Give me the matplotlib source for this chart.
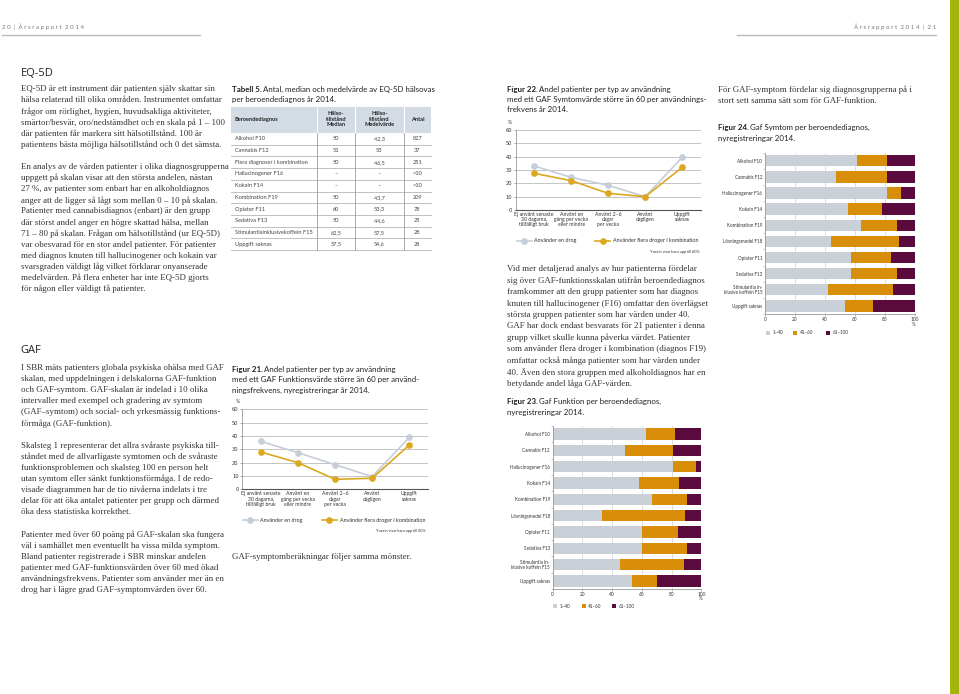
import matplotlib.pyplot as plt
from matplotlib.patches import Rectangle

# --- data ---
line_cats = ['Ej använt senaste\n30 dagarna,\ntillfälligt bruk', 'Använt en\ngång per vecka\neller mindre',
             'Använt 2–6\ndagar\nper vecka', 'Använt\ndagligen', 'Uppgift\nsaknas']
fig21_en_drog = [36, 27.5, 18.5, 9.5, 39]
fig21_flera = [28, 20, 7.5, 8.3, 33.3]
fig22_en_drog = [33, 24.5, 18.5, 10, 39.5]
fig22_flera = [27.5, 22, 12.5, 10, 32]

bar_cats = ['Alkohol F10', 'Cannabis F12', 'Hallucinogener F16', 'Kokain F14', 'Kombination F19',
            'Lösningsmedel F18', 'Opiater F11', 'Sedativa F13', 'Stimulantia in-\nklusive koffein F15',
            'Uppgift saknas']
gaf_levels = ['1–40', '41–60', '61–100']
fig23_low = [63, 48.5, 81, 58, 67, 33, 60, 60, 45, 53]
fig23_mid = [19, 32.5, 15, 27, 23, 56, 24, 30, 43, 17]
fig23_high = [18, 19, 4, 15, 10, 11, 16, 10, 12, 30]
fig24_low = [61, 47, 81, 55.5, 64, 44, 57, 57, 42, 53]
fig24_mid = [20, 34, 9.5, 22.5, 24, 45, 27, 31, 43, 19]
fig24_high = [19, 19, 9.5, 22, 12, 11, 16, 12, 15, 28]

table_head = ['Beroendediagnos', 'Hälso-\ntillstånd\nMedian', 'Hälso-\ntillstånd\nMedelvärde', 'Antal']
table_diag = ['Alkohol F10', 'Cannabis F12', 'Flera diagnoser i kombination', 'Hallucinogener F16',
              'Kokain F14', 'Kombination F19', 'Opiater F11', 'Sedativa F13',
              'Stimulantiainklusivekoffein F15', 'Uppgift saknas']
table_median = ['50', '51', '50', '–', '–', '50', '60', '50', '62,5', '57,5']
table_medel = ['42,3', '53', '46,5', '–', '–', '43,7', '53,3', '44,6', '57,5', '54,6']
table_antal = ['827', '37', '251', '<10', '<10', '209', '78', '25', '28', '28']

eq5d_text = [
    'EQ-5D är ett instrument där patienten själv skattar sin',
    'hälsa relaterad till olika områden. Instrumentet omfattar',
    'frågor om rörlighet, hygien, huvudsakliga aktiviteter,',
    'smärtor/besvär, oro/nedstämdhet och en skala på 1 – 100',
    'där patienten får markera sitt hälsotillstånd. 100 är',
    'patientens bästa möjliga hälsotillstånd och 0 det sämsta.',
    '',
    'En analys av de värden patienter i olika diagnosgrupperna',
    'uppgett på skalan visar att den största andelen, nästan',
    '27 %, av patienter som enbart har en alkoholdiagnos',
    'anger att de ligger så lågt som mellan 0 – 10 på skalan.',
    'Patienter med cannabisdiagnos (enbart) är den grupp',
    'där störst andel anger en högre skattad hälsa, mellan',
    '71 – 80 på skalan. Frågan om hälsotillstånd (ur EQ-5D)',
    'var obesvarad för en stor andel patienter. För patienter',
    'med diagnos knuten till hallucinogener och kokain var',
    'svarsgraden väldigt låg vilket förklarar onyanserade',
    'medelvärden. På flera enheter har inte EQ-5D gjorts',
    'för någon eller väldigt få patienter.',
]
gaf_text = [
    'I SBR mäts patienters globala psykiska ohälsa med GAF',
    'skalan, med uppdelningen i delskalorna GAF-funktion',
    'och GAF-symtom. GAF-skalan är indelad i 10 olika',
    'intervaller med exempel och gradering av symtom',
    '(GAF–symtom) och social- och yrkesmässig funktions-',
    'förmåga (GAF-funktion).',
    '',
    'Skalsteg 1 representerar det allra svåraste psykiska till-',
    'ståndet med de allvarligaste symtomen och de svåraste',
    'funktionsproblemen och skalsteg 100 en person helt',
    'utan symtom eller sänkt funktionsförmåga. I de redo-',
    'visade diagrammen har de tio nivåerna indelats i tre',
    'delar för att öka antalet patienter per grupp och därmed',
    'öka dess statistiska korrekthet.',
    '',
    'Patienter med över 60 poäng på GAF-skalan ska fungera',
    'väl i samhället men eventuellt ha vissa milda symptom.',
    'Bland patienter registrerade i SBR minskar andelen',
    'patienter med GAF-funktionsvärden över 60 med ökad',
    'användningsfrekvens. Patienter som använder mer än en',
    'drog har i lägre grad GAF-symptomvärden över 60.',
]
col3_text = [
    'Vid mer detaljerad analys av hur patienterna fördelar',
    'sig över GAF-funktionsskalan utifrån beroendediagnos',
    'framkommer att den grupp patienter som har diagnos',
    'knuten till hallucinogener (F16) omfattar den överlägset',
    'största gruppen patienter som har värden under 40.',
    'GAF har dock endast besvarats för 21 patienter i denna',
    'grupp vilket skulle kunna påverka värdet. Patienter',
    'som använder flera droger i kombination (diagnos F19)',
    'omfattar också många patienter som har värden under',
    '40. Även den stora gruppen med alkoholdiagnos har en',
    'betydande andel låga GAF-värden.',
]
col4_text = ['För GAF-symptom fördelar sig diagnosgrupperna på i',
             'stort sett samma sätt som för GAF-funktion.']

# --- style ---
W, H = 959, 694
SANS = 'Lato'
SERIF = 'Liberation Serif'
TXT = '#333333'
C_EN = '#c6ceda'
C_FLERA = '#dba81f'
C_LOW = '#c9d0d8'
C_MID = '#d98e0a'
C_HIGH = '#5a0a3c'
GREEN = '#a4b40c'

fig = plt.figure(figsize=(W / 100, H / 100), dpi=100)
page = fig.add_axes([0, 0, 1, 1])
page.set_xlim(0, W)
page.set_ylim(H, 0)
page.axis('off')
renderer = fig.canvas.get_renderer()


def body(x, y, lines, step):
    for i, s in enumerate(lines):
        if s:
            page.text(x, y + i * step, s, fontsize=6.4, family=SERIF, color=TXT, va='center')


def caption(x, y, lead, lines, step=10.5, size=5.7):
    t = page.text(x, y, lead, fontsize=size, family=SANS, weight='bold', color='#222222', va='center')
    w = t.get_window_extent(renderer).width
    page.text(x + w + 1.5, y, lines[0], fontsize=size, family=SANS, color='#222222', va='center')
    for i, s in enumerate(lines[1:], 1):
        page.text(x, y + i * step, s, fontsize=size, family=SANS, color='#222222', va='center')


# page furniture
page.add_patch(Rectangle((950, 0), 9, H, color=GREEN, lw=0))
page.text(2, 26.7, '2 0  |  Å r s r a p p o r t  2 0 1 4', fontsize=4.4, family=SANS, color='#777777', va='center')
page.text(936, 26.7, 'Å r s r a p p o r t  2 0 1 4  |  2 1', fontsize=4.4, family=SANS, color='#777777',
          va='center', ha='right')
page.plot([2, 200], [35, 35], color='#bbbbbb', lw=1)
page.plot([737, 936], [35, 35], color='#bbbbbb', lw=1)

# column 1
page.text(20.7, 73.3, 'EQ-5D', fontsize=8, family='Open Sans', color='#222222', va='center')
body(20.7, 89.3, eq5d_text, 11.1)
page.text(20.7, 350, 'GAF', fontsize=8, family='Open Sans', color='#222222', va='center')
body(20.7, 367.7, gaf_text, 11.13)

# column 2: table
caption(232, 89.3, 'Tabell 5.', ['Antal, median och medelvärde av EQ-5D hälsovas',
                                 'per beroendediagnos år 2014.'], step=9.8)
col_edges = [231, 317, 355, 403.7, 431]
head_top, head_bot, row_h = 107, 133, 11.7
page.add_patch(Rectangle((231, head_top), 200, head_bot - head_top, color='#d3dbe4', lw=0))
page.text(234.7, 119.3, table_head[0], fontsize=4.1, family=SANS, weight='bold', color='#222222', va='center')
for j, s in enumerate(table_head[1:], 1):
    page.text((col_edges[j] + col_edges[j + 1]) / 2, 119.3, s, fontsize=4.1, family=SANS, weight='bold',
              color='#222222', va='center', ha='center', linespacing=1.15)
n_rows = len(table_diag)
for i in range(n_rows):
    yc = head_bot + (i + 0.5) * row_h
    page.text(234.7, yc, table_diag[i], fontsize=4.1, family=SANS, color='#444444', va='center')
    for j, col in enumerate([table_median, table_medel, table_antal], 1):
        page.text((col_edges[j] + col_edges[j + 1]) / 2, yc, col[i], fontsize=4.1, family=SANS,
                  color='#444444', va='center', ha='center')
    page.plot([231, 431], [head_bot + (i + 1) * row_h] * 2, color='#b5b5b5', lw=0.6)
for xe in col_edges[1:-1]:
    page.plot([xe, xe], [head_top, head_bot], color='#ffffff', lw=0.8)
    page.plot([xe, xe], [head_bot, head_bot + n_rows * row_h], color='#9a9a9a', lw=0.6)


def line_chart(left, right, top, bottom, en, flera):
    ax = fig.add_axes([left / W, 1 - bottom / H, (right - left) / W, (bottom - top) / H])
    x = range(len(line_cats))
    ax.plot(x, en, color=C_EN, lw=1.2, marker='o', ms=3.8, zorder=3)
    ax.plot(x, flera, color=C_FLERA, lw=1.2, marker='o', ms=3.8, zorder=4)
    ax.set_xlim(-0.5, 4.5)
    ax.set_ylim(0, 60)
    ax.set_yticks(range(0, 61, 10))
    ax.grid(axis='y', color='#c4c4c4', lw=0.7)
    ax.set_axisbelow(True)
    ax.set_xticks(list(x))
    ax.set_xticklabels(line_cats, fontsize=3.7, family=SANS, linespacing=1.05, color='#333333')
    ax.tick_params(axis='x', length=0, pad=1.5)
    ax.tick_params(axis='y', labelsize=3.7, length=1.5, pad=1, width=0.5, color='#888888', labelcolor='#333333')
    for s in ['top', 'right']:
        ax.spines[s].set_visible(False)
    ax.spines['left'].set_color('#999999')
    ax.spines['left'].set_linewidth(0.6)
    ax.spines['bottom'].set_color('#555555')
    ax.spines['bottom'].set_linewidth(0.8)
    return ax


def line_legend(y, x_en, x_flera, right_note, note_y):
    for xc, c, label in [(x_en, C_EN, 'Använder en drog'), (x_flera, C_FLERA, 'Använder flera droger i kombination')]:
        page.plot([xc - 7.5, xc, xc + 7.5], [y, y, y], color=c, lw=1.2, marker='o', ms=3.8, markevery=[1])
        page.text(xc + 10.5, y, label, fontsize=3.9, family=SANS, color='#333333', va='center')
    page.text(right_note, note_y, 'Y-axeln visar bara upp till 60%', fontsize=2.8, family=SANS,
              color='#333333', va='center', ha='right')


# figure 21
caption(232, 369, 'Figur 21.', ['Andel patienter per typ av användning',
                                 'med ett GAF Funktionsvärde större än 60 per använd-',
                                 'ningsfrekvens, nyregistreringar år 2014.'])
line_chart(242, 428, 409.3, 489.3, fig21_en_drog, fig21_flera)
page.text(238, 401.7, '%', fontsize=3.7, family=SANS, color='#333333', va='center', ha='center')
line_legend(520.3, 250, 329, 426, 530.7)
page.text(232, 556.7, 'GAF-symptomberäkningar följer samma mönster.', fontsize=6.4, family=SERIF,
          color=TXT, va='center')

# column 3: figure 22
caption(506.7, 89.3, 'Figur 22.', ['Andel patienter per typ av användning',
                                    'med ett GAF Symtomvärde större än 60 per användnings-',
                                    'frekvens år 2014.'], step=10)
line_chart(515.7, 700.7, 130, 210, fig22_en_drog, fig22_flera)
page.text(510.3, 122.3, '%', fontsize=3.7, family=SANS, color='#333333', va='center', ha='center')
line_legend(240.7, 524, 602.5, 700, 251.7)
body(506.7, 269.3, col3_text, 11.43)


def bar_chart(left, right, c0, step, low, mid, high):
    top = c0 - 0.45 * step
    bottom = c0 + 9.45 * step
    ax = fig.add_axes([left / W, 1 - bottom / H, (right - left) / W, (bottom - top) / H])
    y = range(len(bar_cats))
    lm = [a + b for a, b in zip(low, mid)]
    ax.barh(y, low, height=0.7, color=C_LOW, zorder=2)
    ax.barh(y, mid, left=low, height=0.7, color=C_MID, zorder=2)
    ax.barh(y, high, left=lm, height=0.7, color=C_HIGH, zorder=2)
    ax.set_xlim(0, 100)
    ax.set_ylim(9.45, -0.45)
    ax.set_xticks(range(0, 101, 20))
    ax.grid(axis='x', color='#d0d0d0', lw=0.5, zorder=0)
    ax.set_yticks(list(y))
    ax.set_yticklabels(bar_cats, fontsize=3.3, family=SANS, linespacing=1.0, color='#333333')
    ax.set_yticks([i + 0.5 for i in range(-1, 10)], minor=True)
    ax.tick_params(axis='y', which='major', length=0, pad=2)
    ax.tick_params(axis='y', which='minor', length=1.5, width=0.4, color='#999999')
    ax.tick_params(axis='x', labelsize=3.4, length=1.2, width=0.5, pad=0.6, color='#999999', labelcolor='#333333')
    for lab in ax.get_xticklabels():
        lab.set_family(SANS)
    for s in ['top', 'right']:
        ax.spines[s].set_visible(False)
    for s in ['left', 'bottom']:
        ax.spines[s].set_color('#999999')
        ax.spines[s].set_linewidth(0.6)
    return ax


def bar_legend(y, xs):
    for xs_i, c, label in zip(xs, [C_LOW, C_MID, C_HIGH], gaf_levels):
        page.add_patch(Rectangle((xs_i, y - 2), 4, 4, color=c, lw=0))
        page.text(xs_i + 6.5, y, label, fontsize=3.3, family=SANS, color='#333333', va='center')


# figure 23
caption(506.7, 401.7, 'Figur 23.', ['Gaf Funktion per beroendediagnos,', 'nyregistreringar 2014.'], step=11)
bar_chart(552.7, 701.5, 433.3, 16.49, fig23_low, fig23_mid, fig23_high)
page.text(701, 598.5, '%', fontsize=3.3, family=SANS, color='#333333', va='center', ha='center')
bar_legend(606, [553.3, 581.7, 612.3])

# column 4: figure 24
body(718, 90, col4_text, 11)
caption(718, 127.7, 'Figur 24.', ['Gaf Symtom per beroendediagnos,', 'nyregistreringar 2014.'], step=10.6)
bar_chart(765, 915, 160, 16.3, fig24_low, fig24_mid, fig24_high)
page.text(914, 324.5, '%', fontsize=3.3, family=SANS, color='#333333', va='center', ha='center')
bar_legend(332.5, [766, 793.3, 826])

fig.savefig('out.png', dpi=100)
